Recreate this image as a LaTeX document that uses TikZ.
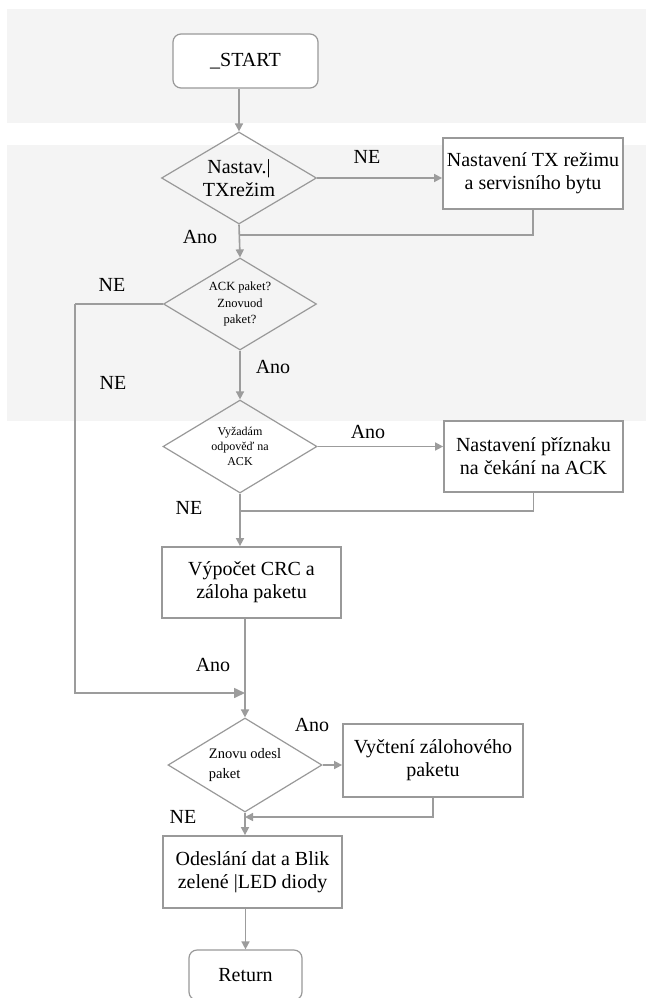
\documentclass[tikz,border=0pt]{standalone}
\usepackage{fontspec}
\setmainfont{Liberation Serif}
\usetikzlibrary{shapes.geometric,arrows.meta}
\definecolor{band}{HTML}{F4F4F4}
\definecolor{ln}{HTML}{9C9C9C}
\definecolor{bd}{HTML}{999999}
\tikzset{
  big/.style={font=\fontsize{20}{23}\selectfont},
  procbox/.style={draw=bd,line width=1.8pt,fill=white,inner sep=0pt,align=center,big},
  termbox/.style={draw=bd,line width=1.2pt,fill=white,rounded corners=8pt,inner sep=0pt,align=center,big},
  decis/.style={draw=bd,line width=1.2pt,diamond,inner sep=0pt,align=center},
  conn/.style={draw=ln,line width=1.6pt},
  arr/.style={conn,-{Triangle[length=8pt,width=8pt]}},
  bigarr/.style={conn,-{Triangle[length=11pt,width=10pt]}},
  lbl/.style={inner sep=0pt,big}
}
\begin{document}
\begin{tikzpicture}[x=1pt,y=-1pt]
\useasboundingbox (0,0) rectangle (646,998);
\fill[white] (0,0) rectangle (646,998);
\fill[band] (7,9) rectangle (646,123);
\fill[band] (7,145) rectangle (646,421);

\node[termbox,minimum width=145pt,minimum height=54pt] (start) at (245.5,61) {\_START};
\node[decis,minimum width=155pt,minimum height=92pt,aspect=1.68,big] (d1) at (239,178) {Nastav.|\\TXrežim};
\node[procbox,minimum width=180pt,minimum height=71pt] (b1) at (533,173.5) {Nastavení TX režimu\\a servisního bytu};
\node[decis,minimum width=153pt,minimum height=92pt,aspect=1.66,font=\fontsize{12.5}{16.5}\selectfont] (d2) at (240,304) {ACK paket?\\Znovuod\\paket?};
\node[decis,minimum width=154pt,minimum height=93pt,aspect=1.66,font=\fontsize{12}{15}\selectfont] (d3) at (240,446.5) {Vyžadám\\odpověď na\\ACK};
\node[procbox,minimum width=179pt,minimum height=71pt] (b2) at (533.5,456.5) {Nastavení příznaku\\na čekání na ACK};
\node[procbox,minimum width=179pt,minimum height=71pt] (b3) at (251.5,582.5) {Výpočet CRC a\\záloha paketu};
\node[decis,minimum width=154pt,minimum height=94pt,aspect=1.64,align=left,font=\fontsize{14.5}{20}\selectfont] (d4) at (245,765) {Znovu odesl\\paket};
\node[procbox,minimum width=180pt,minimum height=73pt] (b4) at (433,760.5) {Vyčtení zálohového\\paketu};
\node[procbox,minimum width=179pt,minimum height=72pt] (b5) at (252.5,872) {Odeslání dat a Blik\\zelené |LED diody};
\node[termbox,minimum width=113pt,minimum height=50pt] (ret) at (245.5,975) {Return};

\coordinate (j1) at (239,235);
\coordinate (j2) at (240,511);
\coordinate (j3) at (245,693);
\coordinate (j4) at (245,817);
\coordinate (lc) at (75,304);

\draw[arr] (d1.north |- start.south) -- (d1.north);
\draw[arr] (d1.east) -- (d1.east -| b1.west);
\draw[conn] (b1.south) |- (j1);
\draw[arr] (d1.south) -- (d2.north);
\draw[conn] (d2.west) -- (lc);
\draw[bigarr] (lc) |- (j3);
\draw[arr] (d2.south) -- (d3.north);
\draw[arr] (d3.east) -- (d3.east -| b2.west);
\draw[conn] (b2.south) |- (j2);
\draw[arr] (d3.south) -- (d3.south |- b3.north);
\draw[arr] (d4.north |- b3.south) -- (d4.north);
\draw[arr] (d4.east) -- (d4.east -| b4.west);
\draw[arr] (b4.south) |- (j4);
\draw[arr] (d4.south) -- (d4.south |- b5.north);
\draw[arr] (ret.north |- b5.south) -- (ret.north);

\node[lbl] (l1) at (367,157) {NE};
\node[lbl] (l2) at (200,237) {Ano};
\node[lbl] (l3) at (112,285) {NE};
\node[lbl] (l4) at (273,367) {Ano};
\node[lbl] (l5) at (113,383) {NE};
\node[lbl] (l6) at (368,432) {Ano};
\node[lbl] (l7) at (189,508) {NE};
\node[lbl] (l8) at (213,665) {Ano};
\node[lbl] (l9) at (312,725) {Ano};
\node[lbl] (l10) at (183,817) {NE};
\end{tikzpicture}
\end{document}
